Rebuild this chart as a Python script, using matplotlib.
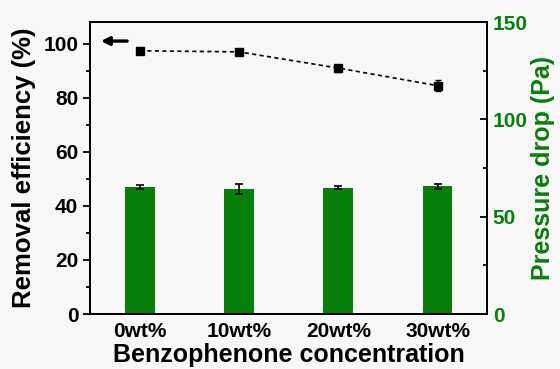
import numpy as np
import matplotlib.pyplot as plt
from matplotlib.ticker import MultipleLocator

plt.rcParams['font.family'] = ['Liberation Sans', 'DejaVu Sans']
plt.rcParams['font.weight'] = 'bold'

labels = ['0wt%', '10wt%', '20wt%', '30wt%']
removal = [97.4, 97.0, 91.0, 84.5]
removal_err = [0.8, 0.9, 1.3, 2.0]
pressure = [65.3, 64.3, 65.0, 65.6]
pressure_err = [1.0, 2.5, 0.6, 1.2]

green = '#087f08'
bg = '#f7f7f7'

fig = plt.figure(figsize=(5.6, 3.69), dpi=100, facecolor=bg)
ax = fig.add_axes([0.161, 0.149, 0.709, 0.791], facecolor=bg)
ax2 = ax.twinx()
ax.set_zorder(2)
ax.patch.set_visible(False)

x = np.arange(len(labels))

# pressure drop bars on right axis
ax2.bar(x, pressure, width=0.3, color=green, yerr=pressure_err,
        error_kw=dict(ecolor='black', elinewidth=1.2, capsize=3, capthick=1.2))
ax2.set_ylim(0, 150)
ax2.yaxis.set_major_locator(MultipleLocator(50))
ax2.yaxis.set_minor_locator(MultipleLocator(25))
ax2.tick_params(axis='y', which='both', direction='in', colors='black',
                labelcolor=green, labelsize=15, width=1.3, pad=4)
ax2.tick_params(axis='y', which='major', length=5)
ax2.tick_params(axis='y', which='minor', length=3)
ax2.set_ylabel('Pressure drop (Pa)', color=green, fontsize=18,
               fontweight='bold', labelpad=2)

# removal efficiency line on left axis
ax.errorbar(x, removal, yerr=removal_err, fmt='s--', color='black', ms=6,
            lw=1.2, dashes=(2.5, 2), elinewidth=1.2, capsize=2.5)
ax.annotate('', xy=(-0.42, 101), xytext=(-0.1, 101),
            arrowprops=dict(arrowstyle='-|>', color='black', lw=2.4,
                            mutation_scale=12))
ax.set_xlim(-0.5, 3.5)
ax.set_ylim(0, 108)
ax.yaxis.set_major_locator(MultipleLocator(20))
ax.yaxis.set_minor_locator(MultipleLocator(10))
ax.tick_params(axis='y', which='both', direction='out', labelsize=15, width=1.3)
ax.tick_params(axis='y', which='major', length=5)
ax.tick_params(axis='y', which='minor', length=3)
ax.set_xticks(x)
ax.set_xticklabels(labels)
ax.tick_params(axis='x', length=0, labelsize=15, pad=6)
ax.set_ylabel('Removal efficiency (%)', fontsize=18.5, fontweight='bold',
              labelpad=5)
ax.set_xlabel('Benzophenone concentration', fontsize=18, fontweight='bold',
              labelpad=1)

for a in (ax, ax2):
    for s in a.spines.values():
        s.set_linewidth(1.3)

fig.savefig('out.png', dpi=100, facecolor=bg)
